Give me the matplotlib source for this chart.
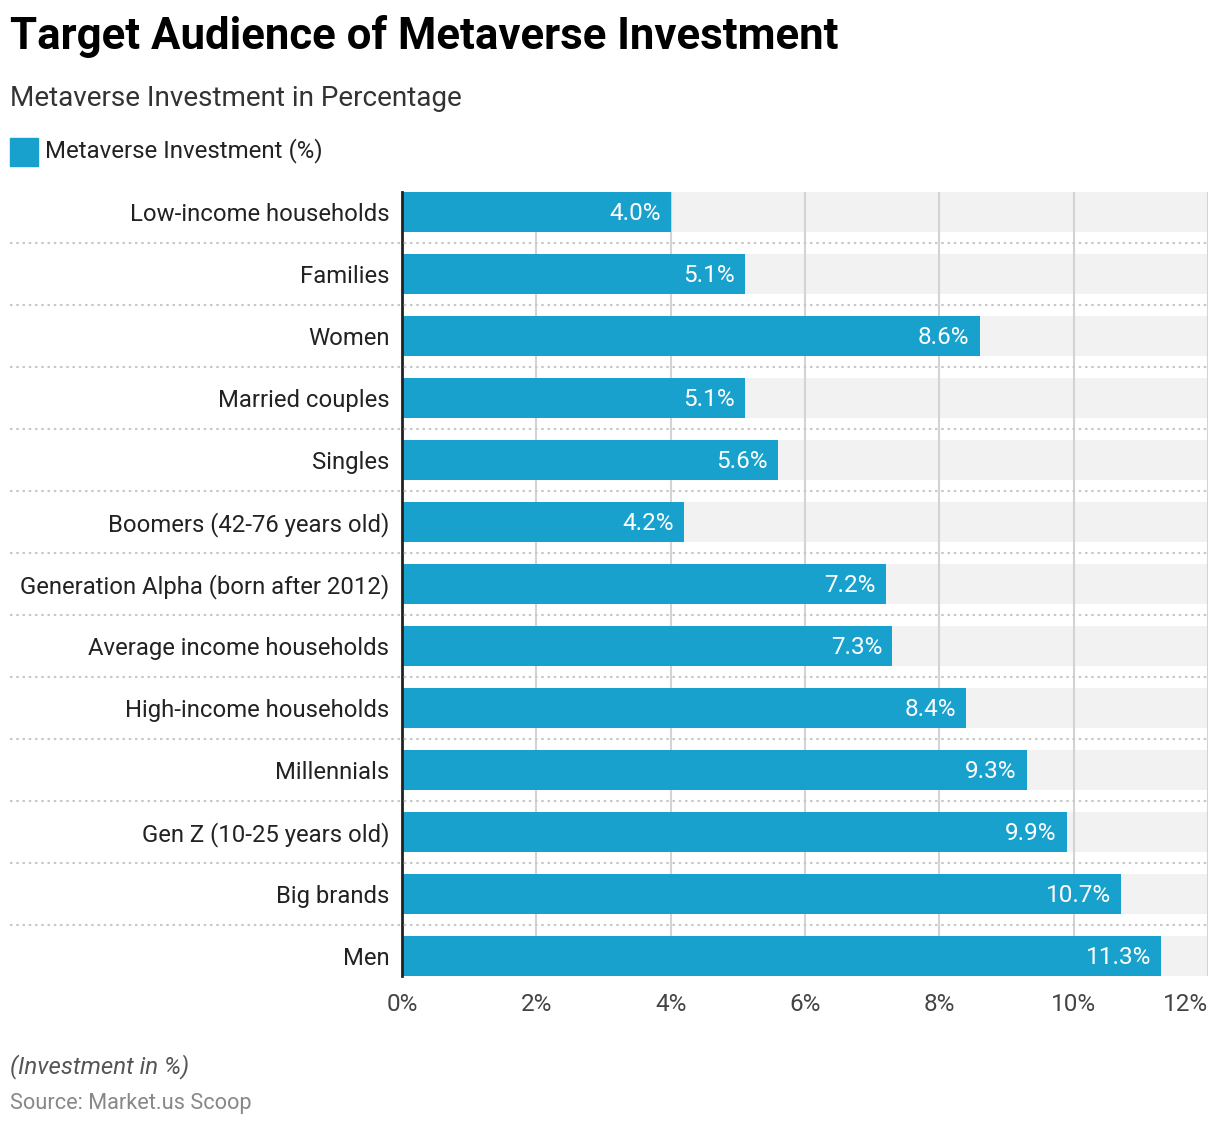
import matplotlib
matplotlib.use("Agg")
import matplotlib.pyplot as plt
from matplotlib.lines import Line2D
from matplotlib.patches import Rectangle
from matplotlib.transforms import blended_transform_factory

plt.rcParams['font.family'] = ['Roboto', 'DejaVu Sans']

# data, top row first
categories = ['Low-income households', 'Families', 'Women', 'Married couples',
              'Singles', 'Boomers (42-76 years old)',
              'Generation Alpha (born after 2012)', 'Average income households',
              'High-income households', 'Millennials', 'Gen Z (10-25 years old)',
              'Big brands', 'Men']
values = [4.0, 5.1, 8.6, 5.1, 5.6, 4.2, 7.2, 7.3, 8.4, 9.3, 9.9, 10.7, 11.3]
xticks = [0, 2, 4, 6, 8, 10, 12]

bar_color = '#19A1CD'
band_color = '#F2F2F2'
xmax = 12
bh = 0.645

fig = plt.figure(figsize=(12.2, 11.28), dpi=100)
ax = fig.add_axes([402 / 1220, 1 - 987 / 1128, 806 / 1220, 806 / 1128])

n = len(categories)
ypos = list(range(n))

# grey background bands
ax.barh(ypos, [xmax] * n, height=bh, color=band_color, zorder=1)
# vertical grid lines
ax.vlines(xticks[1:], -bh / 2, n - 1 + bh / 2, color='#D3D3D3', lw=1.5, zorder=2)
# bars
ax.barh(ypos, values, height=bh, color=bar_color, zorder=3)

for y, v in zip(ypos, values):
    ax.text(v - 0.15, y + 0.02, '%.1f%%' % v, color='white', ha='right', va='center',
            fontsize=17.5, zorder=4)

ax.set_xlim(0, xmax)
ax.set_ylim(n - 0.5, -0.5)
ax.set_yticks(ypos)
ax.set_yticklabels(categories, fontsize=17.2, color='#222222')
ax.set_xticks(xticks)
ax.set_xticklabels(['%d%%' % t for t in xticks], fontsize=17.5, color='#444444')
ax.get_xticklabels()[-1].set_horizontalalignment('right')
ax.tick_params(axis='y', length=0, pad=9)
ax.tick_params(axis='x', length=0, pad=4)

for s in ['top', 'right', 'bottom']:
    ax.spines[s].set_visible(False)
ax.spines['left'].set_bounds(n - 1 + bh / 2, -bh / 2)
ax.spines['left'].set_linewidth(2)
ax.spines['left'].set_color('#222222')
ax.spines['left'].set_zorder(5)

# dotted row separators across the full width
tr = blended_transform_factory(fig.transFigure, ax.transData)
for i in range(n - 1):
    ln = Line2D([10 / 1220, 1208 / 1220], [i + 0.5, i + 0.5], transform=tr,
                color='#C8C8C8', lw=1.5, linestyle=(0, (1.2, 1.8)), clip_on=False)
    fig.add_artist(ln)

# titles
fig.text(10 / 1220, 1 - 36 / 1128, 'Target Audience of Metaverse Investment',
         fontsize=31.5, fontweight='bold', color='black', va='center', ha='left')
fig.text(10 / 1220, 1 - 99 / 1128, 'Metaverse Investment in Percentage',
         fontsize=20.1, color='#333333', va='center', ha='left')

# legend
fig.add_artist(Rectangle((10 / 1220, 1 - 166 / 1128), 28 / 1220, 28 / 1128,
                         transform=fig.transFigure, color=bar_color))
fig.text(45 / 1220, 1 - 151 / 1128, 'Metaverse Investment (%)',
         fontsize=17.3, color='#222222', va='center', ha='left')

# footer
fig.text(10 / 1220, 1 - 1067 / 1128, '(Investment in %)', fontsize=17.3,
         style='italic', color='#555555', va='center', ha='left')
fig.text(10 / 1220, 1 - 1104 / 1128, 'Source: Market.us Scoop', fontsize=15.7,
         color='#888888', va='center', ha='left')

fig.savefig('out.png', dpi=100)
